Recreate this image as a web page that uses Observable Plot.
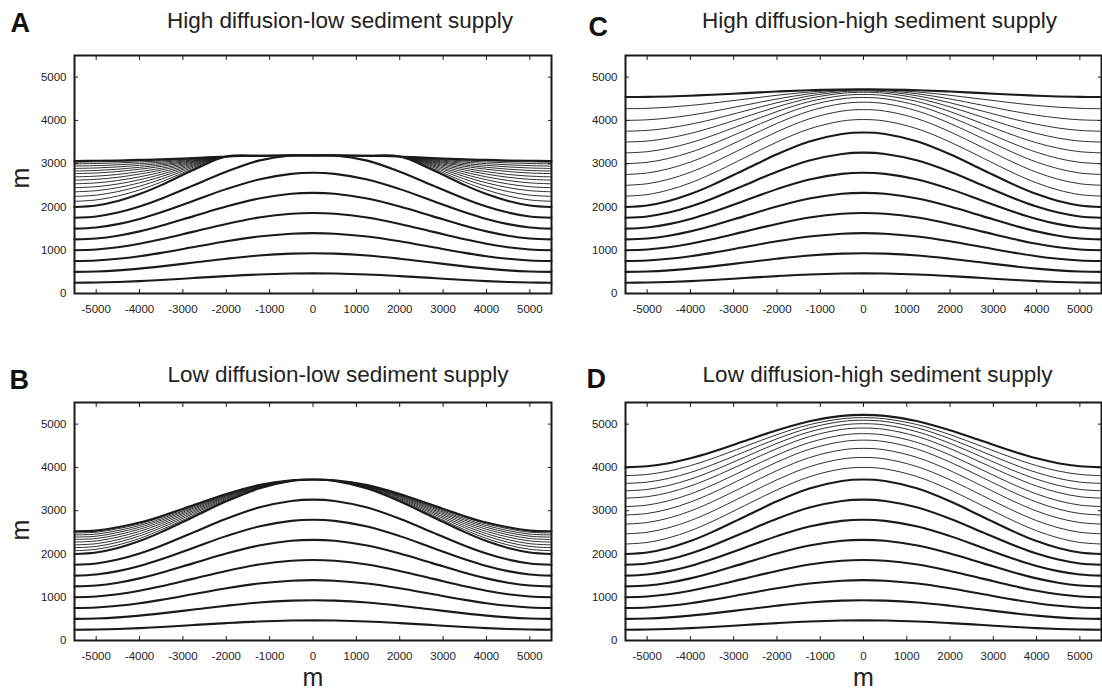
<!DOCTYPE html>
<html><head><meta charset="utf-8">
<script src="https://cdn.jsdelivr.net/npm/d3@7"></script>
<script src="https://cdn.jsdelivr.net/npm/@observablehq/plot@0.6"></script>
<style>
html,body{margin:0;padding:0;background:#fff;}
#root{position:relative;width:1102px;height:693px;overflow:hidden;font-family:"Liberation Sans",Arial,Helvetica,sans-serif;}
#root > svg{position:absolute;overflow:visible;}
</style></head><body><div id="root"></div>
<script>
// horizontal positions (m) at which every horizon was read
const X = [-5500,-5000,-4500,-4000,-3500,-2750,-2000,-1250,-500,0,500,1250,2000,2750,3500,4000,4500,5000,5500];
const xTicks = [-5000,-4000,-3000,-2000,-1000,0,1000,2000,3000,4000,5000];
const yTicks = [0,1000,2000,3000,4000,5000];

// uplifted (tectonic) horizons, common to all panels (m)
const H1 = [250,254,267,287,313,358,402,439,461,465,461,439,402,358,313,287,267,254,250];
const H2 = [500,509,534,574,626,715,804,878,921,930,921,878,804,715,626,574,534,509,500];
const H3 = [750,763,802,861,939,1073,1206,1316,1382,1395,1382,1316,1206,1073,939,861,802,763,750];
const H4 = [1000,1017,1069,1149,1252,1430,1608,1755,1843,1860,1843,1755,1608,1430,1252,1149,1069,1017,1000];
const H5 = [1250,1272,1336,1436,1565,1788,2010,2194,2304,2325,2304,2194,2010,1788,1565,1436,1336,1272,1250];
const H6 = [1500,1526,1603,1723,1878,2145,2412,2633,2764,2790,2764,2633,2412,2145,1878,1723,1603,1526,1500];
const H7 = [1750,1781,1870,2010,2191,2503,2814,3071,3225,3255,3225,3071,2814,2503,2191,2010,1870,1781,1750];
const H8 = [2000,2035,2138,2297,2504,2860,3216,3510,3686,3720,3686,3510,3216,2860,2504,2297,2138,2035,2000];

// A: High diffusion-low sediment supply
const A_H7 = [1750,1781,1870,2010,2191,2503,2814,3071,3190,3190,3190,3071,2814,2503,2191,2010,1870,1781,1750];
const A_H8 = [2000,2035,2138,2297,2504,2860,3165,3185,3190,3190,3190,3185,3165,2860,2504,2297,2138,2035,2000];
const A_top = [3060,3067,3075,3088,3100,3130,3165,3185,3190,3190,3190,3185,3165,3130,3100,3088,3075,3067,3060];
const A_thin = [
  [2130,2162,2253,2394,2577,2893,3165,3185,3190,3190,3190,3185,3165,2893,2577,2394,2253,2162,2130],
  [2245,2273,2355,2480,2642,2922,3165,3185,3190,3190,3190,3185,3165,2922,2642,2480,2355,2273,2245],
  [2350,2376,2447,2558,2701,2949,3165,3185,3190,3190,3190,3185,3165,2949,2701,2558,2447,2376,2350],
  [2445,2468,2531,2629,2754,2973,3165,3185,3190,3190,3190,3185,3165,2973,2754,2629,2531,2468,2445],
  [2535,2556,2611,2696,2805,2996,3165,3185,3190,3190,3190,3185,3165,2996,2805,2696,2611,2556,2535],
  [2620,2639,2686,2760,2853,3018,3165,3185,3190,3190,3190,3185,3165,3018,2853,2760,2686,2639,2620],
  [2695,2712,2752,2816,2895,3037,3165,3185,3190,3190,3190,3185,3165,3037,2895,2816,2752,2712,2695],
  [2770,2785,2819,2872,2937,3056,3165,3185,3190,3190,3190,3185,3165,3056,2937,2872,2819,2785,2770],
  [2830,2843,2872,2916,2971,3071,3165,3185,3190,3190,3190,3185,3165,3071,2971,2916,2872,2843,2830],
  [2890,2901,2925,2961,3004,3087,3165,3185,3190,3190,3190,3185,3165,3087,3004,2961,2925,2901,2890],
  [2945,2955,2973,3002,3035,3101,3165,3185,3190,3190,3190,3185,3165,3101,3035,3002,2973,2955,2945],
  [2995,3004,3018,3040,3063,3113,3165,3185,3190,3190,3190,3185,3165,3113,3063,3040,3018,3004,2995],
  [3035,3043,3053,3069,3086,3124,3165,3185,3190,3190,3190,3185,3165,3124,3086,3069,3053,3043,3035]
];

// B: Low diffusion-low sediment supply
const B_top = [2525,2540,2618,2727,2874,3130,3386,3590,3701,3720,3701,3590,3386,3130,2874,2727,2618,2540,2525];
const B_thin = [
  [2075,2107,2207,2358,2557,2899,3240,3521,3688,3720,3688,3521,3240,2899,2557,2358,2207,2107,2075],
  [2145,2174,2270,2416,2606,2935,3263,3532,3690,3720,3690,3532,3263,2935,2606,2416,2270,2174,2145],
  [2210,2237,2330,2469,2652,2968,3284,3542,3692,3720,3692,3542,3284,2968,2652,2469,2330,2237,2210],
  [2275,2300,2390,2522,2698,3001,3305,3552,3694,3720,3694,3552,3305,3001,2698,2522,2390,2300,2275],
  [2335,2357,2444,2571,2740,3032,3324,3561,3696,3720,3696,3561,3324,3032,2740,2571,2444,2357,2335],
  [2390,2410,2495,2616,2779,3061,3342,3569,3697,3720,3697,3569,3342,3061,2779,2616,2495,2410,2390],
  [2440,2458,2540,2657,2814,3086,3358,3577,3699,3720,3699,3577,3358,3086,2814,2657,2540,2458,2440],
  [2485,2502,2582,2694,2846,3109,3373,3584,3700,3720,3700,3584,3373,3109,2846,2694,2582,2502,2485]
];

// C: High diffusion-high sediment supply
const C_top = [4540,4544,4554,4571,4593,4630,4667,4698,4716,4720,4716,4698,4667,4630,4593,4571,4554,4544,4540];
const C_thin = [
  [2250,2286,2392,2556,2769,3135,3501,3804,3985,4020,3985,3804,3501,3135,2769,2556,2392,2286,2250],
  [2500,2536,2640,2802,3013,3375,3737,4037,4215,4250,4215,4037,3737,3375,3013,2802,2640,2536,2500],
  [2750,2784,2884,3038,3239,3585,3931,4216,4387,4420,4387,4216,3931,3585,3239,3038,2884,2784,2750],
  [3000,3031,3122,3264,3448,3765,4082,4343,4499,4530,4499,4343,4082,3765,3448,3264,3122,3031,3000],
  [3250,3277,3358,3483,3646,3925,4204,4435,4573,4600,4573,4435,4204,3925,3646,3483,3358,3277,3250],
  [3500,3523,3592,3699,3837,4075,4313,4510,4627,4650,4627,4510,4313,4075,3837,3699,3592,3523,3500],
  [3750,3769,3824,3911,4022,4215,4408,4567,4661,4680,4661,4567,4408,4215,4022,3911,3824,3769,3750],
  [4000,4014,4056,4121,4205,4350,4495,4615,4686,4700,4686,4615,4495,4350,4205,4121,4056,4014,4000],
  [4270,4279,4305,4346,4399,4490,4581,4656,4701,4710,4701,4656,4581,4490,4399,4346,4305,4279,4270]
];

// D: Low diffusion-high sediment supply
const D_top = [4000,4025,4097,4210,4356,4608,4859,5067,5191,5215,5191,5067,4859,4608,4356,4210,4097,4025,4000];
const D_thin = [
  [2230,2266,2372,2536,2749,3115,3481,3784,3965,4000,3965,3784,3481,3115,2749,2536,2372,2266,2230],
  [2465,2501,2606,2770,2982,3348,3713,4015,4195,4230,4195,4015,3713,3348,2982,2770,2606,2501,2465],
  [2690,2726,2830,2992,3203,3565,3927,4227,4405,4440,4405,4227,3927,3565,3203,2992,2830,2726,2690],
  [2900,2935,3038,3199,3407,3765,4123,4419,4595,4630,4595,4419,4123,3765,3407,3199,3038,2935,2900],
  [3095,3129,3230,3386,3589,3938,4286,4574,4746,4780,4746,4574,4286,3938,3589,3386,3230,3129,3095],
  [3290,3323,3420,3570,3765,4100,4435,4712,4878,4910,4878,4712,4435,4100,3765,3570,3420,3323,3290],
  [3460,3491,3584,3728,3914,4235,4556,4821,4979,5010,4979,4821,4556,4235,3914,3728,3584,3491,3460],
  [3630,3660,3747,3882,4058,4360,4662,4912,5061,5090,5061,4912,4662,4360,4058,3882,3747,3660,3630],
  [3810,3837,3917,4041,4203,4480,4757,4987,5123,5150,5123,4987,4757,4480,4203,4041,3917,3837,3810]
];

const panelLetters = ["A","B","C","D"];
const panelTitles = [
  "High diffusion-low sediment supply",
  "Low diffusion-low sediment supply",
  "High diffusion-high sediment supply",
  "Low diffusion-high sediment supply"
];
const axisLabel = "m";

const INK = "#1a1a1a";
const FONT = '"Liberation Sans", Arial, Helvetica, sans-serif';

function rows(lines) {
  return lines.flatMap((ys, i) => X.map((x, j) => ({id: i, x, y: ys[j]})));
}

function panel(cfg) {
  const marks = [
    Plot.line(rows(cfg.thin), {x: "x", y: "y", z: "id", curve: "catmull-rom", stroke: INK, strokeWidth: 0.9}),
    Plot.line(rows(cfg.thick), {x: "x", y: "y", z: "id", curve: "catmull-rom", stroke: INK, strokeWidth: 2.1}),
    Plot.axisX(xTicks, {anchor: "bottom", tickSize: -4, tickPadding: 15, tickFormat: d => String(d), fontSize: 11.5, label: null, stroke: INK, fill: "#222"}),
    Plot.axisX(xTicks, {anchor: "top", tickSize: -4, tickFormat: () => "", label: null, stroke: INK}),
    Plot.axisY(yTicks, {anchor: "left", tickSize: -4, tickPadding: 12, tickFormat: d => String(d), fontSize: 11.5, label: null, stroke: INK, fill: "#222"}),
    Plot.axisY(yTicks, {anchor: "right", tickSize: -4, tickFormat: () => "", label: null, stroke: INK}),
    Plot.frame({stroke: INK, strokeWidth: 2}),
    Plot.text([cfg.title], {frameAnchor: "top", text: d => d, dx: cfg.titleDx, dy: cfg.titleDy, lineAnchor: "bottom", fontSize: 22.5, fill: "#222"}),
    Plot.text([cfg.letter], {frameAnchor: "top-left", text: d => d, textAnchor: "start", dx: cfg.letterDx, dy: cfg.letterDy, lineAnchor: "bottom", fontSize: 27, fontWeight: "bold", fill: "#111"})
  ];
  if (cfg.yLabel) marks.push(Plot.text([axisLabel], {frameAnchor: "left", text: d => d, rotate: -90, dx: -54, dy: cfg.yLabelDy, fontSize: 25, fill: "#222"}));
  if (cfg.xLabel) marks.push(Plot.text([axisLabel], {frameAnchor: "bottom", text: d => d, dy: 45, fontSize: 25, fill: "#222"}));
  const svg = Plot.plot({
    width: cfg.width, height: cfg.height,
    marginLeft: cfg.marginLeft, marginRight: 1, marginTop: 55, marginBottom: cfg.height - 55 - 238,
    x: {domain: [-5500, 5500]},
    y: {domain: [0, 5500]},
    style: {fontFamily: FONT, background: "transparent", overflow: "visible", color: "#222"},
    marks
  });
  svg.style.left = cfg.left + "px";
  svg.style.top = cfg.top + "px";
  document.getElementById("root").appendChild(svg);
}

panel({thick: [H1,H2,H3,H4,H5,H6,A_H7,A_H8,A_top], thin: A_thin, title: panelTitles[0], letter: panelLetters[0],
  left: 0, top: 0, width: 552, height: 330, marginLeft: 74, titleDx: 27, titleDy: -28, letterDx: -64, letterDy: -24, yLabel: true, yLabelDy: 14});
panel({thick: [H1,H2,H3,H4,H5,H6,H7,H8,B_top], thin: B_thin, title: panelTitles[1], letter: panelLetters[1],
  left: 0, top: 347, width: 552, height: 346, marginLeft: 74, titleDx: 25, titleDy: -21, letterDx: -65, letterDy: -14, yLabel: true, yLabelDy: 19, xLabel: true});
panel({thick: [H1,H2,H3,H4,H5,H6,H7,H8,C_top], thin: C_thin, title: panelTitles[2], letter: panelLetters[2],
  left: 552, top: 0, width: 550, height: 330, marginLeft: 73, titleDx: 16, titleDy: -28, letterDx: -37, letterDy: -20});
panel({thick: [H1,H2,H3,H4,H5,H6,H7,H8,D_top], thin: D_thin, title: panelTitles[3], letter: panelLetters[3],
  left: 552, top: 347, width: 550, height: 346, marginLeft: 73, titleDx: 14, titleDy: -21, letterDx: -39, letterDy: -15, xLabel: true});
</script></body></html>
